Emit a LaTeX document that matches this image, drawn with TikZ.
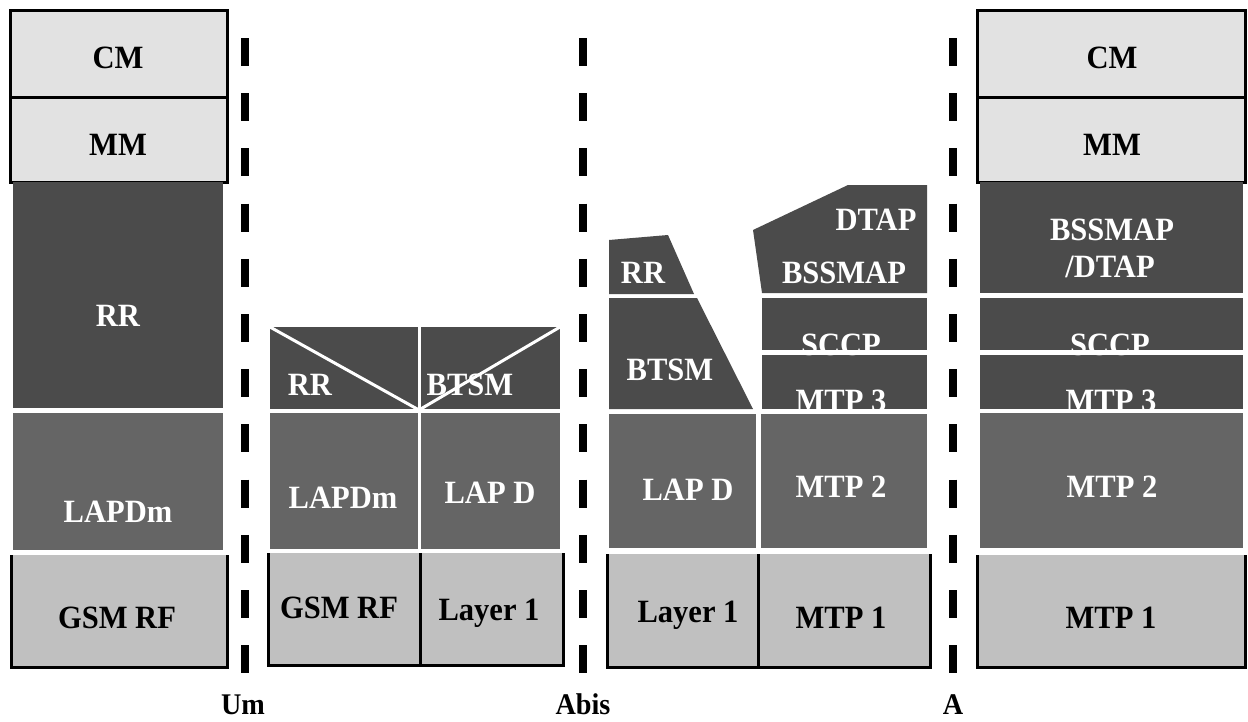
\documentclass[tikz,border=0pt]{standalone}
\usepackage{fontspec}
\setmainfont{Liberation Serif}[FakeStretch=0.94]
\definecolor{topg}{HTML}{E2E2E2}
\definecolor{darkg}{HTML}{4B4B4B}
\definecolor{midg}{HTML}{656565}
\definecolor{botg}{HTML}{C0C0C0}
\begin{document}
\begin{tikzpicture}[x=1pt,y=-1pt,
  lbl/.style={anchor=base, inner sep=0pt, font=\fontsize{32.5}{35}\selectfont\bfseries},
  wl/.style={lbl, text=white},
  edge/.style={line width=3pt, black},
  sep/.style={line width=3pt, white},
  iface/.style={line width=8pt, black, dash pattern=on 28pt off 27.2pt}]
\useasboundingbox (0,0) rectangle (1248,721);
\fill[white] (0,0) rectangle (1248,721);

% ---------- MS stack (left) ----------
\fill[topg] (10,10) rectangle (227,182);
\draw[edge] (10,10) rectangle (227,182);
\draw[edge] (10,97) -- (227,97);
\fill[darkg] (13,182) rectangle (223,408);
\fill[midg] (13,413) rectangle (223,550);
\fill[botg] (11,555) rectangle (227,667);
\draw[edge] (11,555) -- (11,667) -- (227,667) -- (227,555);
\node[lbl] (msCM) at (118,68) {CM};
\node[lbl] (msMM) at (118,155) {MM};
\node[wl] (msRR) at (118,326) {RR};
\node[wl] (msLAPDm) at (118,522) {LAPDm};
\node[lbl] (msRF) at (117,628) {GSM RF};

% ---------- BTS stack ----------
\fill[darkg] (270,327) rectangle (560,409);
\fill[midg] (270,413) rectangle (560,549);
\fill[botg] (268,553) rectangle (563,665);
\draw[edge] (268,553) -- (268,665) -- (563,665) -- (563,553);
\draw[edge] (420,553) -- (420,665);
\node[wl] (btsRR) at (310,395) {RR};
\node[wl] (btsBTSM) at (470,395) {BTSM};
\draw[sep] (270,327) -- (419,410) -- (560,327);
\draw[sep] (419,325) -- (419,549);
\node[wl] (btsLAPDm) at (343,508) {LAPDm};
\node[wl] (btsLAPD) at (490,503) {LAP D};
\node[lbl] (btsRF) at (339,618) {GSM RF};
\node[lbl] (btsL1) at (489,620) {Layer 1};

% ---------- BSC stack ----------
\fill[darkg] (609,240) -- (668,235) -- (694,294) -- (609,294) -- cycle;
\fill[darkg] (609,298) -- (697,298) -- (753,409) -- (609,409) -- cycle;
\fill[darkg] (753,230) -- (848,185) -- (927,185) -- (927,293) -- (762,293) -- cycle;
\fill[darkg] (762,298) rectangle (927,350);
\fill[darkg] (762,355) rectangle (927,409);
\fill[midg] (609,414) rectangle (756,548);
\fill[midg] (761,414) rectangle (927,548);
\fill[botg] (607,554) rectangle (930,667);
\draw[edge] (607,554) -- (607,667) -- (930,667) -- (930,554);
\draw[edge] (758,554) -- (758,667);
\node[wl] (bscRR) at (643,283) {RR};
\node[wl] (bscBTSM) at (670,380) {BTSM};
\node[wl] (bscDTAP) at (876,230) {DTAP};
\node[wl] (bscBSSMAP) at (844,283) {BSSMAP};
\node[wl] (bscSCCP) at (841,355) {SCCP};
\node[wl] (bscMTP3) at (841,411) {MTP 3};
\fill[white] (762,350.5) rectangle (927,354.5);
\fill[white] (762,409.5) rectangle (927,413.5);
\node[wl] (bscLAPD) at (688,500) {LAP D};
\node[wl] (bscMTP2) at (841,497) {MTP 2};
\node[lbl] (bscL1) at (688,622) {Layer 1};
\node[lbl] (bscMTP1) at (841,628) {MTP 1};

% ---------- MSC stack (right) ----------
\fill[topg] (977,10) rectangle (1245,182);
\draw[edge] (977,10) rectangle (1245,182);
\draw[edge] (977,97) -- (1245,97);
\fill[darkg] (980,182) rectangle (1243,293);
\fill[darkg] (980,298) rectangle (1243,350);
\fill[darkg] (980,355) rectangle (1243,409);
\fill[midg] (980,413) rectangle (1243,548);
\fill[botg] (977,555) rectangle (1245,667);
\draw[edge] (977,555) -- (977,667) -- (1245,667) -- (1245,555);
\node[lbl] (mscCM) at (1112,68) {CM};
\node[lbl] (mscMM) at (1112,155) {MM};
\node[wl] (mscBSSMAP) at (1112,240) {BSSMAP};
\node[wl] (mscDTAP) at (1110,277) {/DTAP};
\node[wl] (mscSCCP) at (1110,355) {SCCP};
\node[wl] (mscMTP3) at (1111,411) {MTP 3};
\fill[white] (980,350.5) rectangle (1243,354.5);
\fill[white] (980,409.5) rectangle (1243,412.5);
\node[wl] (mscMTP2) at (1112,497) {MTP 2};
\node[lbl] (mscMTP1) at (1111,628) {MTP 1};

% ---------- interfaces ----------
\coordinate (umT) at (245,38);  \coordinate (umB) at (245,674);
\coordinate (abT) at (583,38);  \coordinate (abB) at (583,674);
\coordinate (aT) at (953,38);   \coordinate (aB) at (953,674);
\draw[iface] (umT) -- (umB);
\draw[iface] (abT) -- (abB);
\draw[iface] (aT) -- (aB);
\node[lbl, font=\fontsize{30}{33}\selectfont\bfseries] (lUm) at (243,714) {Um};
\node[lbl, font=\fontsize{30}{33}\selectfont\bfseries] (lAbis) at (583,714) {Abis};
\node[lbl, font=\fontsize{30}{33}\selectfont\bfseries] (lA) at (953,714) {A};
\end{tikzpicture}
\end{document}
